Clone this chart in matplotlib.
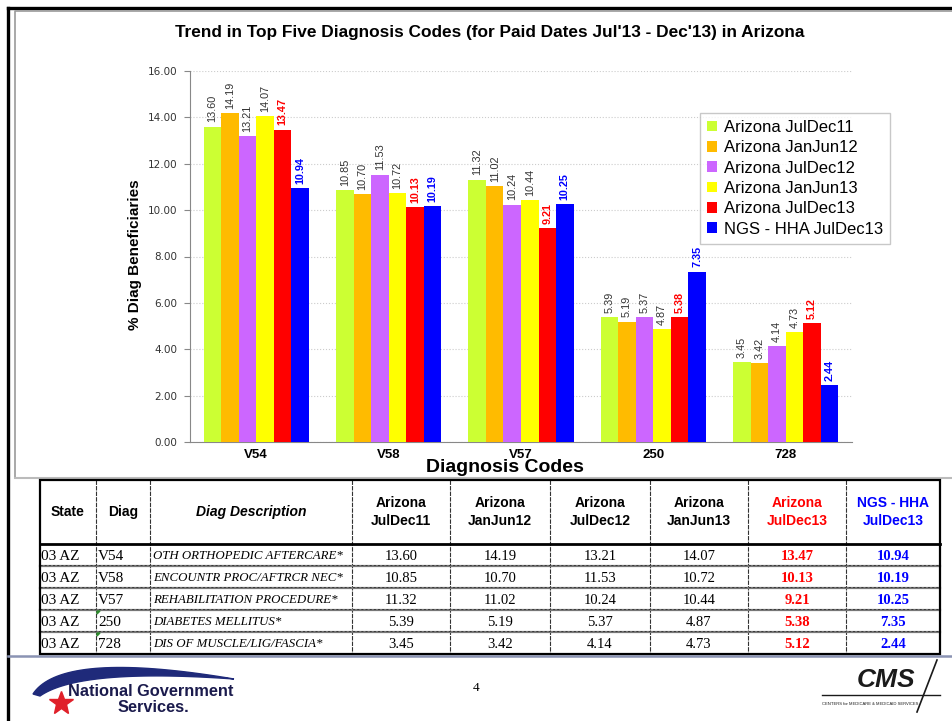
import numpy as np
import matplotlib.pyplot as plt
from matplotlib.patches import Polygon, Rectangle

codes = ["V54", "V58", "V57", "250", "728"]
descriptions = ["OTH ORTHOPEDIC AFTERCARE*", "ENCOUNTR PROC/AFTRCR NEC*",
                "REHABILITATION PROCEDURE*", "DIABETES MELLITUS*",
                "DIS OF MUSCLE/LIG/FASCIA*"]
series = ["Arizona JulDec11", "Arizona JanJun12", "Arizona JulDec12",
          "Arizona JanJun13", "Arizona JulDec13", "NGS - HHA JulDec13"]
jul_dec11 = [13.60, 10.85, 11.32, 5.39, 3.45]
jan_jun12 = [14.19, 10.70, 11.02, 5.19, 3.42]
jul_dec12 = [13.21, 11.53, 10.24, 5.37, 4.14]
jan_jun13 = [14.07, 10.72, 10.44, 4.87, 4.73]
jul_dec13 = [13.47, 10.13, 9.21, 5.38, 5.12]
ngs_hha = [10.94, 10.19, 10.25, 7.35, 2.44]

values = [jul_dec11, jan_jun12, jul_dec12, jan_jun13, jul_dec13, ngs_hha]
colors = ["#CCFF33", "#FFBB00", "#CC66FF", "#FFFF00", "#FF0000", "#0000FF"]
label_colors = ["#333333", "#333333", "#333333", "#333333", "#FF0000", "#0000FF"]
label_weights = ["normal", "normal", "normal", "normal", "bold", "bold"]

SANS = ["Liberation Sans", "DejaVu Sans"]
SERIF = ["Liberation Serif", "DejaVu Serif"]

fig = plt.figure(figsize=(9.52, 7.21), dpi=100)

# background layer in pixel coordinates (frames, table, logos)
bg = fig.add_axes([0, 0, 1, 1])
bg.set_xlim(0, 952)
bg.set_ylim(721, 0)
bg.axis("off")

bg.plot([8, 8], [8, 721], color="black", lw=2.4)
bg.plot([8, 952], [8, 8], color="black", lw=2.4)
bg.plot([15, 15, 952], [478, 11, 11], color="#999999", lw=1.2)
bg.plot([15, 952], [478, 478], color="#bbbbbb", lw=1.5)
bg.plot([8, 952], [655.5, 655.5], color="#8a93b3", lw=1.8)

# bar chart
ax = fig.add_axes([190 / 952, 1 - 442 / 721, 662 / 952, 371 / 721])
x = np.arange(len(codes))
w = 0.1325
for j, (vals, c) in enumerate(zip(values, colors)):
    pos = x + (j - 2.5) * w
    ax.bar(pos, vals, width=w, color=c, label=series[j], zorder=3)
    for p, v in zip(pos, vals):
        ax.annotate(f"{v:.2f}", (p, v), xytext=(0, 3), textcoords="offset points",
                    rotation=90, ha="center", va="bottom", fontsize=7.8,
                    family=SANS, color=label_colors[j], weight=label_weights[j])

ax.set_xlim(-0.5, len(codes) - 0.5)
ax.set_ylim(0, 16)
ax.set_yticks(np.arange(0, 17, 2))
ax.set_yticklabels([f"{t:.2f}" for t in np.arange(0, 17, 2)], fontsize=7.5,
                   family=["DejaVu Sans"], color="#333333")
ax.set_xticks(x)
ax.set_xticklabels(codes, fontsize=9.5, weight="bold", family=SANS)
ax.tick_params(axis="x", length=0, pad=5)
ax.tick_params(axis="y", length=4, color="#888888", direction="out", pad=5)
ax.grid(axis="y", linestyle=":", color="#cccccc", lw=0.8, zorder=0)
for s in ["top", "right"]:
    ax.spines[s].set_visible(False)
for s in ["left", "bottom"]:
    ax.spines[s].set_color("#888888")
ax.set_ylabel("% Diag Beneficiaries", fontsize=11, weight="bold", family=SANS)
ax.yaxis.set_label_coords(-0.072, 0.505)
ax.set_xlabel("Diagnosis Codes", fontsize=14, weight="bold", family=SANS)
ax.xaxis.set_label_coords(0.476, -0.046)
leg = ax.legend(loc="upper left", bbox_to_anchor=(510 / 662, 1 - 42 / 371),
                prop={"family": SANS, "size": 12}, frameon=True, fancybox=False,
                handlelength=0.6, handleheight=0.6, handletextpad=0.4,
                labelspacing=0.32, borderpad=0.42, borderaxespad=0)
leg.get_frame().set_edgecolor("#bbbbbb")
leg.get_frame().set_linewidth(1.0)

fig.text(490 / 952, 1 - 33 / 721,
         "Trend in Top Five Diagnosis Codes (for Paid Dates Jul'13 - Dec'13) in Arizona",
         ha="center", va="center", fontsize=12.4, weight="bold", family=SANS)

# table
cols = [40, 96, 150, 352, 450, 550, 650, 748, 846, 940]
rows = [480, 544, 566, 588, 610, 632, 654]
bg.add_patch(Rectangle((cols[0], rows[0]), cols[-1] - cols[0], rows[-1] - rows[0],
                       fill=False, edgecolor="black", lw=1.6, zorder=5))
for cx in cols[1:-1]:
    bg.plot([cx, cx], [rows[0], rows[-1]], color="#333333", lw=0.8, ls=(0, (4, 1)), zorder=4)
bg.plot([cols[0], cols[-1]], [rows[1], rows[1]], color="black", lw=2.0, zorder=5)
for ry in rows[2:-1]:
    bg.plot([cols[0], cols[-1]], [ry, ry], color="#777777", lw=1.6, zorder=4)
    bg.plot([cols[0], cols[-1]], [ry - 1.2, ry - 1.2], color="#222222", lw=0.5,
            ls=(0, (3, 3)), zorder=4)

hy = (rows[0] + rows[1]) / 2
bg.text((cols[0] + cols[1]) / 2, hy, "State", ha="center", va="center",
        fontsize=10, weight="bold", family=SANS)
bg.text((cols[1] + cols[2]) / 2, hy, "Diag", ha="center", va="center",
        fontsize=10, weight="bold", family=SANS)
bg.text((cols[2] + cols[3]) / 2, hy, "Diag Description", ha="center", va="center",
        fontsize=10, weight="bold", style="italic", family=SANS)
head_colors = ["black", "black", "black", "black", "#FF0000", "#0000FF"]
for j, name in enumerate(series):
    a, b = name.rsplit(" ", 1)
    bg.text((cols[3 + j] + cols[4 + j]) / 2, hy, a + "\n" + b, ha="center", va="center",
            fontsize=10, weight="bold", family=SANS, color=head_colors[j], linespacing=1.35)

for i, code in enumerate(codes):
    ry = (rows[1 + i] + rows[2 + i]) / 2 + 1
    bg.text(cols[0] + 1, ry, "03 AZ", ha="left", va="center", fontsize=11, family=SERIF)
    bg.text(cols[1] + 2, ry, code, ha="left", va="center", fontsize=11, family=SERIF)
    bg.text(cols[2] + 3, ry, descriptions[i], ha="left", va="center", fontsize=9.3,
            style="italic", family=SERIF)
    for j, vals in enumerate(values):
        bg.text((cols[3 + j] + cols[4 + j]) / 2, ry, f"{vals[i]:.2f}", ha="center",
                va="center", fontsize=10.5, family=SERIF, color=head_colors[j],
                weight=label_weights[j])
    if code in ("250", "728"):
        bg.add_patch(Polygon([[cols[1] + 1, rows[1 + i] + 1], [cols[1] + 4, rows[1 + i] + 1],
                              [cols[1] + 1, rows[1 + i] + 4]], color="#2e8b2e", zorder=6))

# footer: page number and logos
bg.text(476, 688, "4", ha="center", va="center", fontsize=9.5, family=SERIF)


def bezier(p0, p1, p2, n=40):
    t = np.linspace(0, 1, n)[:, None]
    return (1 - t) ** 2 * np.array(p0) + 2 * t * (1 - t) * np.array(p1) + t ** 2 * np.array(p2)


outer = bezier((33, 694), (62, 650), (234, 679))
inner = bezier((234, 679), (80, 668), (40, 696))
bg.add_patch(Polygon(np.vstack([outer, inner]), closed=True, color="#1f2a7a", zorder=3))
bg.plot(61, 703, marker="*", markersize=18, color="#e0202a", zorder=4)
bg.text(68, 691, "National Government", ha="left", va="center", fontsize=11.8,
        weight="bold", family=SANS, color="#1b1b4d", zorder=5)
bg.text(118, 708, "Services.", ha="left", va="center", fontsize=11.8,
        weight="bold", family=SANS, color="#1b1b4d", zorder=5)

bg.text(886, 680, "CMS", ha="center", va="center", fontsize=19, weight="bold",
        style="italic", family=SANS, color="#1a1a1a")
bg.plot([937, 917], [660, 712], color="#1a1a1a", lw=1.2)
bg.plot([822, 940], [695, 695], color="#1a1a1a", lw=1.0)
bg.text(870, 704, "CENTERS for MEDICARE & MEDICAID SERVICES", ha="center", va="center",
        fontsize=3, family=SANS, color="#1a1a1a")

fig.savefig("out.png", dpi=100)
